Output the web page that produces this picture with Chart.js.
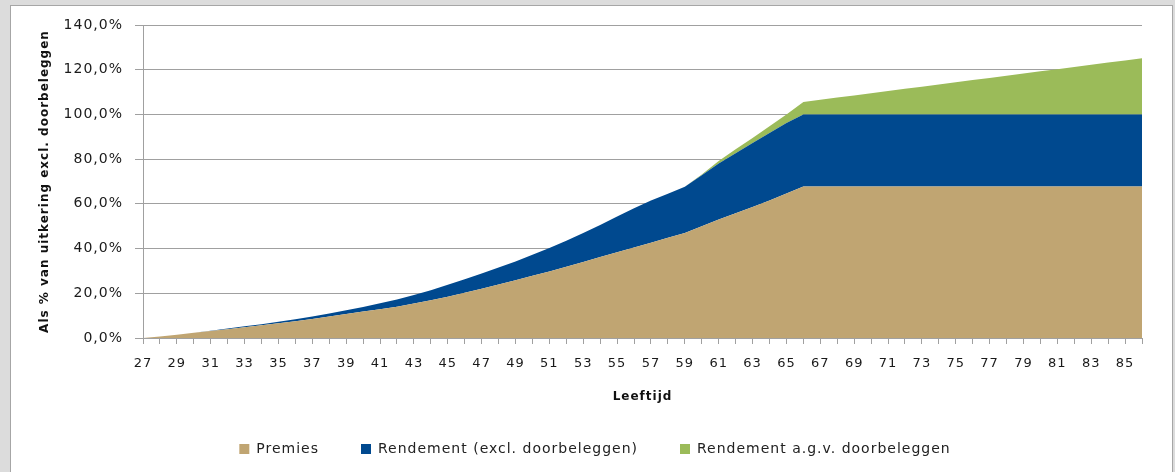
<!DOCTYPE html>
<html>
<head>
<meta charset="utf-8">
<script src="https://cdn.jsdelivr.net/npm/chart.js@4.4.1/dist/chart.umd.min.js"></script>
<style>
  html, body { margin: 0; padding: 0; background: #dcdcdc; overflow: hidden; }
  #frame { position: absolute; left: 10px; top: 5px; width: 1163px; height: 500px; background: #ffffff; border: 1px solid #a6a6a6; box-sizing: border-box; }
  #c { position: absolute; left: 0; top: 0; }
</style>
</head>
<body>
<div id="frame"></div>
<canvas id="c" width="1175" height="472"></canvas>
<script>
const ages = [27,28,29,30,31,32,33,34,35,36,37,38,39,40,41,42,43,44,45,46,47,48,49,50,51,52,53,54,55,56,
              57,58,59,60,61,62,63,64,65,66,67,68,69,70,71,72,73,74,75,76,77,78,79,80,81,82,83,84,85,86];

const premies = [0,0.7,1.5,2.3,3.1,3.9,4.8,5.7,6.6,7.5,8.5,9.6,10.7,11.8,12.9,14.0,15.4,16.9,18.5,20.2,
                 22.0,23.9,25.8,27.8,29.8,31.9,34.0,36.2,38.4,40.5,42.6,44.8,47.0,50.0,53.0,55.8,58.6,61.5,64.6,67.8,
                 67.8,67.8,67.8,67.8,67.8,67.8,67.8,67.8,67.8,67.8,67.8,67.8,67.8,67.8,67.8,67.8,67.8,67.8,67.8,67.8];

const rendementExcl = [0,0,0,0.1,0.1,0.3,0.4,0.5,0.7,0.9,1.1,1.4,1.7,2.1,2.6,3.2,3.8,4.5,5.3,6.1,
                       6.9,7.6,8.4,9.4,10.5,11.6,13.0,14.3,15.9,17.5,18.9,19.7,20.7,22.8,25.0,26.8,28.6,30.2,31.6,32.2,
                       32.2,32.2,32.2,32.2,32.2,32.2,32.2,32.2,32.2,32.2,32.2,32.2,32.2,32.2,32.2,32.2,32.2,32.2,32.2,32.2];

const rendementDoorbeleggen = [0,0,0,0,0,0,0,0,0,0,0,0,0,0,0,0,0,0,0,0,
                               0,0,0,0,0,0,0,0,0,0,0,0,0,0.3,1.2,1.8,2.3,3.0,3.8,5.6,
                               6.6,7.6,8.5,9.5,10.5,11.5,12.4,13.4,14.4,15.4,16.3,17.3,18.3,19.3,20.2,21.2,22.2,23.2,24.1,25.1];

const seriesNames = ['Premies', 'Rendement (excl. doorbeleggen)', 'Rendement a.g.v. doorbeleggen'];
const yTicks = [0,20,40,60,80,100,120,140];

const spacingPlugin = {
  id: 'spacing',
  beforeUpdate(c) { c.ctx.letterSpacing = '1px'; },
  beforeDraw(c) { c.ctx.letterSpacing = '1px'; }
};

const FONT = 'DejaVu Sans';
const gridColor = '#a0a0a0';

new Chart(document.getElementById('c'), {
  type: 'line',
  data: {
    labels: ages,
    datasets: [
      { label: seriesNames[0], data: premies, backgroundColor: '#C0A572', borderColor: '#C0A572', fill: 'origin' },
      { label: seriesNames[1], data: rendementExcl, backgroundColor: '#00498F', borderColor: '#00498F', fill: '-1' },
      { label: seriesNames[2], data: rendementDoorbeleggen, backgroundColor: '#9BBB59', borderColor: '#9BBB59', fill: '-1' }
    ]
  },
  plugins: [spacingPlugin],
  options: {
    responsive: false,
    animation: false,
    layout: { padding: { left: 48, right: 33, top: 25, bottom: 6 } },
    elements: { point: { radius: 0, hoverRadius: 0 }, line: { borderWidth: 0, tension: 0 } },
    plugins: {
      legend: {
        position: 'bottom',
        labels: { boxWidth: 10, boxHeight: 10, padding: 42, color: '#222', font: { family: FONT, size: 14 } }
      },
      tooltip: { enabled: false }
    },
    scales: {
      x: {
        stacked: true,
        grid: { drawOnChartArea: false, drawTicks: true, tickLength: 6, color: gridColor },
        border: { color: gridColor },
        ticks: {
          autoSkip: false, maxRotation: 0, minRotation: 0, padding: 12, color: '#1a1a1a',
          font: { family: FONT, size: 13 },
          callback: (v, i) => (i % 2 === 0 ? String(ages[i]) : '')
        },
        title: { display: true, text: 'Leeftijd', color: '#111', font: { family: FONT, size: 12, weight: 'bold' }, padding: { top: 0, bottom: -4 } },
        afterFit(s) { s.height = 62; }
      },
      y: {
        stacked: true,
        min: 0, max: 140,
        afterBuildTicks(s) { s.ticks = yTicks.map(v => ({ value: v })); },
        grid: { color: gridColor, tickLength: 8 },
        border: { color: gridColor },
        ticks: {
          padding: 12, color: '#1a1a1a',
          font: { family: FONT, size: 14 },
          callback: v => v.toFixed(1).replace('.', ',') + '%'
        },
        title: { display: true, text: 'Als % van uitkering excl. doorbeleggen', color: '#111', font: { family: FONT, size: 12, weight: 'bold' }, padding: { top: -10, bottom: 0 } },
        afterFit(s) { s.width = 95; }
      }
    }
  }
});
</script>
</body>
</html>
